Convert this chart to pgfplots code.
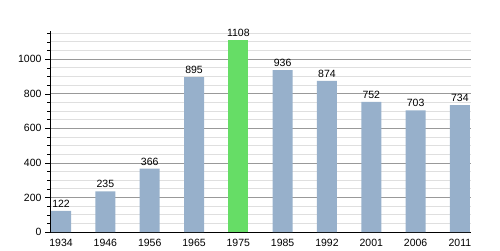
\documentclass[border=0pt]{standalone}
\usepackage{pgfplots}
\pgfplotsset{compat=1.18}
\usepackage{fontspec}
\setmainfont{Liberation Sans}
\definecolor{barblue}{HTML}{97B0CB}
\definecolor{bargreen}{HTML}{66DD66}
\begin{document}
\begin{tikzpicture}[x=1pt,y=1pt]
\useasboundingbox (0,0) rectangle (500,250);
\begin{axis}[
  at={(50pt,18pt)}, anchor=south west,
  scale only axis, width=421pt, height=201.5pt,
  xmin=-0.25, xmax=9.25, ymin=0, ymax=1165,
  axis x line=bottom, axis y line=left,
  axis line style={black, thick, -},
  xtick={0,1,...,9},
  xticklabels={1934,1946,1956,1965,1975,1985,1992,2001,2006,2011},
  ytick={0,200,400,600,800,1000},
  minor ytick={50,100,...,1150},
  tick style={black},
  x tick style={draw=none},
  major tick length=5pt, minor tick length=3pt,
  ytick align=outside,
  ymajorgrids, yminorgrids,
  major grid style={gray!80, line width=0.6pt},
  minor grid style={gray!25, line width=0.6pt},
  tick label style={font=\fontsize{10.5}{12}\selectfont},
  xticklabel style={yshift=1pt},
  /pgf/number format/assume math mode=true,
  /pgf/number format/1000 sep={},
  ybar=0pt, bar width=20pt,
  nodes near coords,
  every node near coord/.append style={font=\fontsize{10.5}{12}\selectfont, text=black, /pgf/number format/1000 sep={}},
  clip=false,
]
\addplot[fill=barblue, draw=none, bar shift=0pt] coordinates {(0,122) (1,235) (2,366) (3,895) (5,936) (6,874) (7,752) (8,703) (9,734)};
\addplot[fill=bargreen, draw=none, bar shift=0pt] coordinates {(4,1108)};
\end{axis}
\end{tikzpicture}
\end{document}
